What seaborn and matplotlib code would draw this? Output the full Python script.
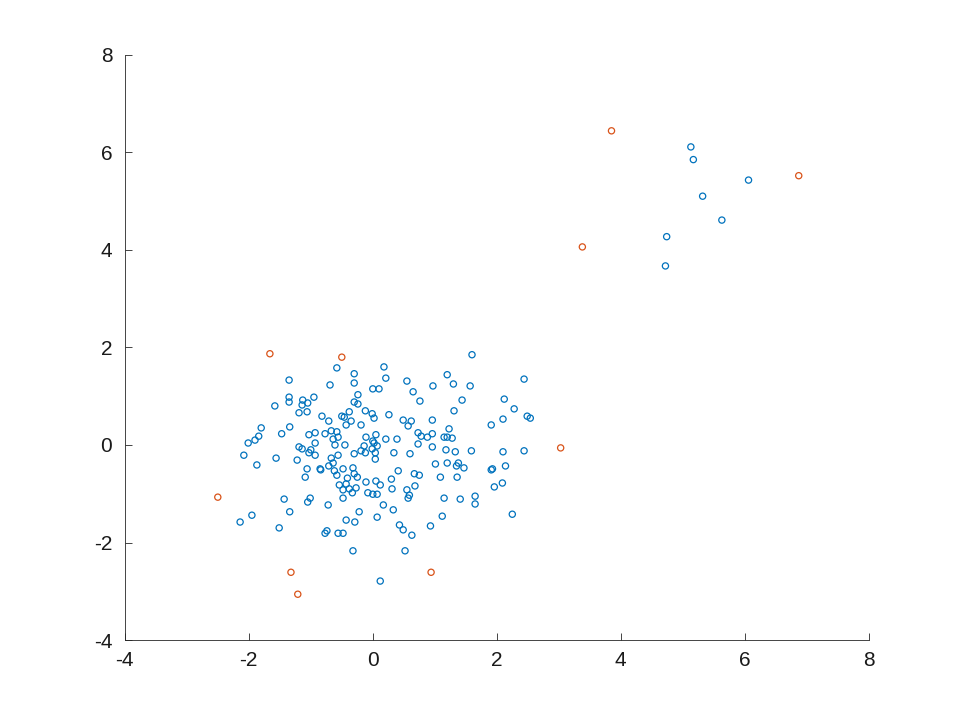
import matplotlib
matplotlib.use("Agg")
import matplotlib.pyplot as plt
import seaborn as sns

blue_x = [-0.58,-0.30,-1.35,-0.69,-0.30,0.00,0.10,-1.35,-1.35,-1.58,-1.13,-1.14,-1.05,-0.95,-0.24,-0.30,-0.24,
          -1.19,-1.06,-0.82,-0.71,-0.50,-0.46,-0.38,-0.35,-0.43,-0.12,-0.01,0.02,-0.19,-1.80,-1.84,-1.90,-2.01,
          -1.34,-1.47,-1.03,-0.93,-0.77,-0.67,-0.58,-0.56,-0.64,-0.93,-0.61,-0.45,-0.11,0.05,0.02,-0.14,-1.19,
          -1.14,-1.00,-1.03,-0.93,-0.30,-0.19,-0.12,-0.01,0.04,0.04,-2.08,-1.56,-1.22,-0.67,-0.56,-0.64,-0.71,
          -1.87,-1.06,-0.85,-0.48,-0.32,
          1.60,0.18,0.21,0.55,1.20,1.30,0.97,1.57,2.44,0.65,0.76,1.44,2.12,2.28,1.31,0.26,0.49,0.62,0.57,0.96,
          2.10,2.49,2.54,1.91,1.23,0.21,0.39,0.73,0.78,0.88,0.96,1.15,1.20,1.28,0.00,0.07,0.73,0.96,0.34,0.60,
          1.18,1.33,1.59,2.10,2.44,1.01,1.20,1.38,1.35,1.47,1.93,2.14,
          -1.09,-0.84,-0.62,-0.58,-0.41,-0.30,-0.25,-0.11,0.05,-0.54,-0.43,-0.38,-0.27,-0.48,-0.33,-0.08,0.00,
          0.07,-0.48,-1.43,-1.01,-1.05,-0.72,-1.34,-0.22,-1.95,-2.14,-0.43,-0.29,0.07,-1.51,-0.74,-0.77,-0.56,
          -0.48,-0.32,0.12,
          1.91,0.41,0.67,0.75,1.09,1.36,0.12,0.30,0.31,0.55,0.68,0.59,0.57,2.09,1.96,0.17,0.33,1.15,1.41,1.65,
          1.65,2.25,1.12,0.43,0.49,0.63,0.93,0.52,
          5.13,5.17,5.32,6.06,5.63,4.74,4.72]
blue_y = [1.58,1.46,1.33,1.23,1.27,1.15,1.15,0.98,0.88,0.80,0.92,0.82,0.86,0.98,1.03,0.88,0.84,
          0.66,0.68,0.59,0.49,0.59,0.57,0.68,0.49,0.41,0.70,0.64,0.55,0.41,0.35,0.18,0.10,0.04,
          0.37,0.23,0.21,0.25,0.23,0.29,0.27,0.16,0.12,0.04,0.00,0.00,0.16,0.21,0.04,-0.02,-0.04,
          -0.08,-0.10,-0.16,-0.21,-0.18,-0.12,-0.16,-0.08,-0.16,-0.29,-0.21,-0.27,-0.31,-0.27,-0.21,-0.37,-0.43,
          -0.41,-0.49,-0.49,-0.49,-0.47,
          1.85,1.60,1.37,1.31,1.44,1.25,1.21,1.21,1.35,1.09,0.90,0.92,0.94,0.74,0.70,0.62,0.51,0.49,0.39,0.51,
          0.53,0.59,0.55,0.41,0.33,0.12,0.12,0.25,0.18,0.16,0.23,0.16,0.16,0.14,0.08,-0.02,0.02,-0.04,-0.16,-0.18,
          -0.10,-0.14,-0.12,-0.14,-0.12,-0.39,-0.37,-0.37,-0.43,-0.47,-0.49,-0.43,
          -0.66,-0.51,-0.53,-0.62,-0.68,-0.59,-0.66,-0.76,-0.74,-0.82,-0.80,-0.90,-0.88,-0.92,-0.98,-0.98,-1.01,
          -1.01,-1.09,-1.11,-1.09,-1.17,-1.23,-1.37,-1.37,-1.44,-1.58,-1.54,-1.58,-1.48,-1.70,-1.76,-1.81,-1.81,
          -1.81,-2.17,-2.79,
          -0.51,-0.53,-0.59,-0.62,-0.66,-0.66,-0.82,-0.70,-0.90,-0.92,-0.84,-1.03,-1.09,-0.78,-0.86,-1.23,-1.33,
          -1.09,-1.11,-1.05,-1.21,-1.42,-1.46,-1.64,-1.74,-1.85,-1.66,-2.17,
          6.11,5.85,5.10,5.43,4.61,4.27,3.67]
red_x = [-1.66,-0.50,-2.50,-1.32,-1.21,0.94,3.03,3.38,3.85,6.87]
red_y = [1.87,1.80,-1.07,-2.61,-3.06,-2.61,-0.06,4.06,6.44,5.52]

sns.set_style("white")
plt.rcParams['font.family'] = ['Liberation Sans', 'DejaVu Sans']
plt.rcParams['axes.unicode_minus'] = False
fig = plt.figure(figsize=(9.6, 7.2), dpi=100)
ax = fig.add_axes([0.13, 0.111, 0.775, 0.813])
blue = "#0072BD"
red = "#D95319"
sns.scatterplot(x=blue_x, y=blue_y, ax=ax, marker='o', s=20, facecolor='none', edgecolor=blue, linewidth=0.9)
sns.scatterplot(x=red_x, y=red_y, ax=ax, marker='o', s=20, facecolor='none', edgecolor=red, linewidth=0.9)
ax.set_xlim(-4, 8)
ax.set_ylim(-4, 8)
ax.set_xticks(range(-4, 9, 2))
ax.set_yticks(range(-4, 9, 2))
for s in ['top', 'right']:
    ax.spines[s].set_visible(False)
for s in ['left', 'bottom']:
    ax.spines[s].set_color('#262626')
    ax.spines[s].set_linewidth(0.6)
ax.tick_params(bottom=True, left=True, direction='in', length=5, width=0.6,
               color='#262626', labelcolor='#1a1a1a', labelsize=15)
ax.tick_params(axis='x', pad=8)
ax.tick_params(axis='y', pad=9)
fig.savefig("out.png", dpi=100, facecolor='white')
